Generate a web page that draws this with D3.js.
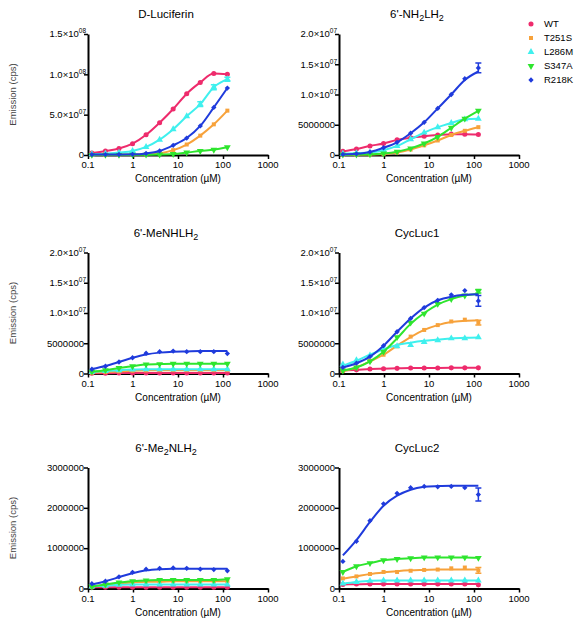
<!DOCTYPE html>
<html><head><meta charset="utf-8">
<script src="https://cdn.jsdelivr.net/npm/d3@7"></script>
<style>body{margin:0;background:#fff} text{font-family:"Liberation Sans",Arial,sans-serif;fill:#000}</style>
</head><body><svg id="c" width="582" height="624"></svg>
<script>
// ---------- DATA ----------
const conc = [0.122, 0.244, 0.488, 0.977, 1.953, 3.906, 7.813, 15.63, 31.25, 62.5, 125];
const seriesNames = ["WT", "T251S", "L286M", "S347A", "R218K"];
const seriesColors = ["#ee2b6c", "#f7a23b", "#3ff0ee", "#2ee52e", "#1f3bdc"];

const xTicks = [0.1, 1, 10, 100, 1000];
const xTickLabels = ["0.1", "1", "10", "100", "1000"];

const yTicksA = [0, 5e7, 1e8, 1.5e8];
const yTickLabelsA = ["0", "5.0×10^07", "1.0×10^08", "1.5×10^08"];
const yTicksB = [0, 5e6, 1e7, 1.5e7, 2e7];
const yTickLabelsB = ["0", "5000000", "1.0×10^07", "1.5×10^07", "2.0×10^07"];
const yTicksC = [0, 1e6, 2e6, 3e6];
const yTickLabelsC = ["0", "1000000", "2000000", "3000000"];

// Panel 1: D-Luciferin (series order WT, T251S, L286M, S347A, R218K)
const valsDLuc = [
  [2.5e6, 5.0e6, 8.0e6, 1.4e7, 2.5e7, 4.0e7, 5.7e7, 7.6e7, 9.0e7, 1.01e8, 1.0e8],
  [0.3e6, 0.4e6, 0.5e6, 0.7e6, 1.0e6, 2.0e6, 6.0e6, 1.3e7, 2.4e7, 3.8e7, 5.5e7],
  [1.0e6, 1.5e6, 3.0e6, 5.0e6, 1.0e7, 1.9e7, 3.2e7, 4.8e7, 6.3e7, 8.4e7, 9.4e7],
  [0.2e6, 0.2e6, 0.2e6, 0.3e6, 0.4e6, 0.6e6, 1.2e6, 3.0e6, 5.0e6, 6.5e6, 9.5e6],
  [0.5e6, 0.5e6, 0.6e6, 0.8e6, 2.0e6, 5.0e6, 1.2e7, 2.1e7, 3.6e7, 5.9e7, 8.3e7]
];
const fitDLuc = {};
const errDLuc = [[2, 8, 3e6], [2, 9, 3e6], [2, 10, 2.5e6]];

// Panel 2: 6'-NH2LH2
const valsNH2 = [
  [0.6e6, 1.0e6, 1.5e6, 1.9e6, 2.5e6, 2.85e6, 3.1e6, 3.3e6, 3.45e6, 3.45e6, 3.4e6],
  [0.02e6, 0.05e6, 0.08e6, 0.15e6, 0.4e6, 0.9e6, 1.6e6, 2.4e6, 3.3e6, 4.0e6, 4.6e6],
  [0.2e6, 0.3e6, 0.4e6, 0.8e6, 1.5e6, 2.6e6, 3.7e6, 4.6e6, 5.3e6, 5.9e6, 6.0e6],
  [0.05e6, 0.07e6, 0.1e6, 0.25e6, 0.55e6, 1.1e6, 1.9e6, 3.0e6, 4.5e6, 6.0e6, 7.3e6],
  [0.1e6, 0.2e6, 0.5e6, 1.2e6, 2.1e6, 3.6e6, 5.4e6, 7.7e6, 1.0e7, 1.26e7, 1.44e7]
];
const fitNH2 = {4: [0.1e6, 0.2e6, 0.5e6, 1.2e6, 2.1e6, 3.6e6, 5.4e6, 7.7e6, 1.0e7, 1.24e7, 1.38e7]};
const errNH2 = [[4, 10, 0.8e6]];

// Panel 3: 6'-MeNHLH2
const valsMeNH = [
  [0.05e6, 0.06e6, 0.07e6, 0.08e6, 0.08e6, 0.08e6, 0.08e6, 0.08e6, 0.08e6, 0.08e6, 0.08e6],
  [0.15e6, 0.25e6, 0.35e6, 0.45e6, 0.5e6, 0.55e6, 0.55e6, 0.55e6, 0.55e6, 0.55e6, 0.55e6],
  [0.25e6, 0.4e6, 0.55e6, 0.65e6, 0.7e6, 0.7e6, 0.7e6, 0.7e6, 0.7e6, 0.7e6, 0.7e6],
  [0.3e6, 0.55e6, 0.9e6, 1.2e6, 1.5e6, 1.55e6, 1.6e6, 1.6e6, 1.6e6, 1.6e6, 1.6e6],
  [0.7e6, 1.2e6, 1.9e6, 2.6e6, 3.35e6, 3.6e6, 3.7e6, 3.6e6, 3.6e6, 3.6e6, 3.3e6]
];
const fitMeNH = {4: [0.75e6, 1.25e6, 1.9e6, 2.6e6, 3.15e6, 3.45e6, 3.6e6, 3.65e6, 3.7e6, 3.7e6, 3.7e6]};
const errMeNH = [];

// Panel 4: CycLuc1
const valsCyc1 = [
  [0.5e6, 0.6e6, 0.75e6, 0.8e6, 0.85e6, 0.9e6, 0.9e6, 0.92e6, 0.93e6, 0.93e6, 0.93e6],
  [0.4e6, 1.0e6, 2.1e6, 3.1e6, 4.5e6, 6.1e6, 7.2e6, 8.0e6, 8.6e6, 8.9e6, 8.4e6],
  [1.5e6, 2.2e6, 3.0e6, 4.0e6, 4.5e6, 4.7e6, 5.2e6, 5.5e6, 5.8e6, 5.8e6, 6.0e6],
  [0.5e6, 1.0e6, 2.0e6, 3.6e6, 6.0e6, 8.4e6, 9.9e6, 11.5e6, 12.3e6, 12.9e6, 13.6e6],
  [1.0e6, 1.7e6, 2.8e6, 4.6e6, 6.9e6, 9.1e6, 10.9e6, 12.1e6, 13.0e6, 13.7e6, 12.0e6]
];
const fitCyc1 = {
  1: [0.4e6, 1.0e6, 2.0e6, 3.1e6, 4.6e6, 6.0e6, 7.2e6, 8.0e6, 8.5e6, 8.7e6, 8.8e6],
  2: [1.3e6, 2.1e6, 3.1e6, 4.0e6, 4.7e6, 5.1e6, 5.4e6, 5.6e6, 5.8e6, 5.9e6, 5.95e6],
  3: [0.5e6, 1.0e6, 2.0e6, 3.6e6, 5.8e6, 8.2e6, 10.0e6, 11.4e6, 12.3e6, 12.9e6, 13.2e6],
  4: [1.0e6, 1.7e6, 2.8e6, 4.6e6, 6.9e6, 9.1e6, 10.9e6, 12.1e6, 12.7e6, 13.0e6, 13.1e6]
};
const errCyc1 = [[1, 10, 0.4e6], [3, 10, 0.3e6], [4, 10, 0.9e6]];

// Panel 5: 6'-Me2NLH2
const valsMe2N = [
  [0.03e6, 0.03e6, 0.03e6, 0.03e6, 0.03e6, 0.03e6, 0.03e6, 0.03e6, 0.03e6, 0.03e6, 0.03e6],
  [0.05e6, 0.08e6, 0.12e6, 0.15e6, 0.17e6, 0.17e6, 0.18e6, 0.18e6, 0.18e6, 0.18e6, 0.18e6],
  [0.05e6, 0.07e6, 0.09e6, 0.1e6, 0.1e6, 0.1e6, 0.1e6, 0.1e6, 0.1e6, 0.1e6, 0.1e6],
  [0.05e6, 0.1e6, 0.15e6, 0.18e6, 0.2e6, 0.21e6, 0.21e6, 0.21e6, 0.21e6, 0.21e6, 0.23e6],
  [0.12e6, 0.18e6, 0.29e6, 0.4e6, 0.48e6, 0.5e6, 0.51e6, 0.5e6, 0.48e6, 0.47e6, 0.44e6]
];
const fitMe2N = {4: [0.1e6, 0.18e6, 0.28e6, 0.38e6, 0.45e6, 0.48e6, 0.49e6, 0.49e6, 0.49e6, 0.49e6, 0.49e6]};
const errMe2N = [];

// Panel 6: CycLuc2
const valsCyc2 = [
  [0.1e6, 0.11e6, 0.11e6, 0.11e6, 0.11e6, 0.11e6, 0.11e6, 0.11e6, 0.11e6, 0.11e6, 0.09e6],
  [0.25e6, 0.3e6, 0.36e6, 0.41e6, 0.41e6, 0.44e6, 0.46e6, 0.47e6, 0.5e6, 0.52e6, 0.45e6],
  [0.12e6, 0.16e6, 0.19e6, 0.2e6, 0.2e6, 0.2e6, 0.2e6, 0.2e6, 0.2e6, 0.2e6, 0.2e6],
  [0.41e6, 0.55e6, 0.63e6, 0.7e6, 0.73e6, 0.75e6, 0.77e6, 0.77e6, 0.77e6, 0.77e6, 0.76e6],
  [0.67e6, 1.17e6, 1.68e6, 2.1e6, 2.36e6, 2.5e6, 2.53e6, 2.52e6, 2.53e6, 2.5e6, 2.33e6]
];
const fitCyc2 = {
  0: [0.1e6, 0.105e6, 0.11e6, 0.11e6, 0.11e6, 0.11e6, 0.11e6, 0.11e6, 0.11e6, 0.11e6, 0.11e6],
  1: [0.24e6, 0.3e6, 0.36e6, 0.4e6, 0.43e6, 0.45e6, 0.46e6, 0.47e6, 0.47e6, 0.47e6, 0.47e6],
  4: [0.82e6, 1.2e6, 1.65e6, 2.05e6, 2.3e6, 2.45e6, 2.52e6, 2.54e6, 2.55e6, 2.55e6, 2.55e6]
};
const errCyc2 = [[1, 10, 0.07e6], [4, 10, 0.16e6]];

// titles as [text, isSubscript] segments
const titleDLuc = [["D-Luciferin", 0]];
const titleNH2 = [["6'-NH", 0], ["2", 1], ["LH", 0], ["2", 1]];
const titleMeNH = [["6'-MeNHLH", 0], ["2", 1]];
const titleCyc1 = [["CycLuc1", 0]];
const titleMe2N = [["6'-Me", 0], ["2", 1], ["NLH", 0], ["2", 1]];
const titleCyc2 = [["CycLuc2", 0]];

// ---------- LAYOUT ----------
const colX = [88, 339];
const rowTop = [34, 252.5, 467.5];
const plotW = 180, plotH = 121;

const panels = [
  {col: 0, row: 0, title: titleDLuc, vals: valsDLuc, fit: fitDLuc, err: errDLuc, yMax: 1.5e8, ticks: yTicksA, labels: yTickLabelsA},
  {col: 1, row: 0, title: titleNH2, vals: valsNH2, fit: fitNH2, err: errNH2, yMax: 2e7, ticks: yTicksB, labels: yTickLabelsB},
  {col: 0, row: 1, title: titleMeNH, vals: valsMeNH, fit: fitMeNH, err: errMeNH, yMax: 2e7, ticks: yTicksB, labels: yTickLabelsB},
  {col: 1, row: 1, title: titleCyc1, vals: valsCyc1, fit: fitCyc1, err: errCyc1, yMax: 2e7, ticks: yTicksB, labels: yTickLabelsB},
  {col: 0, row: 2, title: titleMe2N, vals: valsMe2N, fit: fitMe2N, err: errMe2N, yMax: 3e6, ticks: yTicksC, labels: yTickLabelsC},
  {col: 1, row: 2, title: titleCyc2, vals: valsCyc2, fit: fitCyc2, err: errCyc2, yMax: 3e6, ticks: yTicksC, labels: yTickLabelsC}
];

const svg = d3.select("#c");

const symSizes = [20, 16, 20, 20, 14];
function symbolPath(i) {
  const types = [d3.symbolCircle, d3.symbolSquare, d3.symbolTriangle, d3.symbolTriangle, d3.symbolSquare];
  return d3.symbol().type(types[i]).size(symSizes[i])();
}
function symbolTransform(i, x, y) {
  return `translate(${x},${y})` + (i === 3 ? " rotate(180)" : i === 4 ? " rotate(45)" : "");
}

panels.forEach(p => {
  const x0 = colX[p.col], top = rowTop[p.row], bottom = top + plotH;
  const g = svg.append("g");
  const x = d3.scaleLog().domain([0.1, 1000]).range([x0, x0 + plotW]);
  const y = d3.scaleLinear().domain([0, p.yMax]).range([bottom, top]);

  // x axis
  const xa = g.append("g").attr("transform", `translate(0,${bottom})`)
    .call(d3.axisBottom(x).tickValues(xTicks).tickFormat("").tickSize(4).tickSizeOuter(0));
  xa.select(".domain").attr("stroke-width", 2);
  xa.selectAll(".tick line").attr("stroke-width", 1.5);
  g.selectAll(".xl").data(xTicks).enter().append("text")
    .attr("x", d => x(d)).attr("y", bottom + 13)
    .attr("text-anchor", "middle").attr("font-size", 9.5)
    .text((d, i) => xTickLabels[i]);

  // y axis
  const ya = g.append("g").attr("transform", `translate(${x0},0)`)
    .call(d3.axisLeft(y).tickValues(p.ticks).tickFormat("").tickSize(4).tickSizeOuter(0));
  ya.select(".domain").attr("stroke-width", 2);
  ya.selectAll(".tick line").attr("stroke-width", 1.5);
  p.ticks.forEach((v, i) => {
    const parts = p.labels[i].split("^");
    const t = g.append("text").attr("x", x0 - (parts.length > 1 ? 2 : 4)).attr("y", y(v))
      .attr("dy", "0.35em").attr("text-anchor", "end").attr("font-size", 9.5);
    t.append("tspan").text(parts[0]);
    if (parts.length > 1) t.append("tspan").attr("dy", -4).attr("font-size", 6.5).text(parts[1]);
  });

  // title
  const tt = g.append("text").attr("x", x0 + 78).attr("y", top - 16)
    .attr("text-anchor", "middle").attr("font-size", 11.5);
  let shifted = false;
  p.title.forEach(([s, sub]) => {
    const ts = tt.append("tspan").text(s);
    if (sub && !shifted) { ts.attr("dy", 3).attr("font-size", 9); shifted = true; }
    else if (sub) { ts.attr("font-size", 9); }
    else if (!sub && shifted) { ts.attr("dy", -3); shifted = false; }
  });

  // x label
  g.append("text").attr("x", x0 + plotW / 2).attr("y", bottom + 27)
    .attr("text-anchor", "middle").attr("font-size", 10).text("Concentration (µM)");

  // y label
  if (p.col === 0) {
    g.append("text").attr("transform", `translate(16,${(top + bottom) / 2}) rotate(-90)`)
      .attr("text-anchor", "middle").attr("font-size", 9.5).style("fill", "#444")
      .text("Emission (cps)");
  }

  const line = d3.line().x(d => x(d[0])).y(d => y(d[1])).curve(d3.curveMonotoneX);

  p.vals.forEach((vals, si) => {
    const fitVals = p.fit[si] || vals;
    const color = seriesColors[si];
    g.append("path").datum(conc.map((c, k) => [c, fitVals[k]]))
      .attr("d", line).attr("fill", "none").attr("stroke", color).attr("stroke-width", 2);
    p.err.filter(e => e[0] === si).forEach(([s, k, e]) => {
      const cx = x(conc[k]);
      const y1 = y(vals[k] - e), y2 = y(vals[k] + e);
      g.append("path").attr("d", `M${cx},${y1}V${y2}M${cx - 3},${y1}H${cx + 3}M${cx - 3},${y2}H${cx + 3}`)
        .attr("stroke", color).attr("stroke-width", 1.5).attr("fill", "none");
    });
    g.selectAll(null).data(vals).enter().append("path")
      .attr("d", symbolPath(si))
      .attr("transform", (d, k) => symbolTransform(si, x(conc[k]), y(d)))
      .attr("fill", color);
  });
});

// legend
const lg = svg.append("g");
seriesNames.forEach((n, i) => {
  const yy = 24 + i * 14;
  lg.append("path").attr("d", symbolPath(i))
    .attr("transform", symbolTransform(i, 531, yy)).attr("fill", seriesColors[i]);
  lg.append("text").attr("x", 544).attr("y", yy).attr("dy", "0.35em")
    .attr("font-size", 9.5).text(n);
});
</script></body></html>
